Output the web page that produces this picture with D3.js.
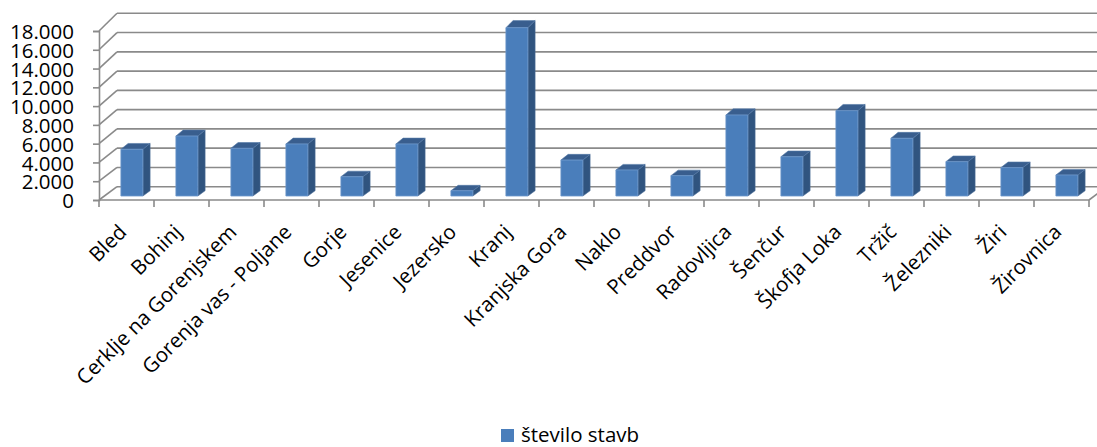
<!DOCTYPE html>
<html>
<head>
<meta charset="utf-8">
<script src="https://cdn.jsdelivr.net/npm/d3@7"></script>
<style>
  html, body { margin: 0; padding: 0; background: #fff; }
  svg { display: block; }
  text { font-family: "Open Sans", "Noto Sans", sans-serif; fill: #000; }
</style>
</head>
<body>
<svg id="chart" width="1097" height="447"></svg>
<script>
// Number of buildings per municipality (Gorenjska region)
const municipalities = [
  "Bled", "Bohinj", "Cerklje na Gorenjskem", "Gorenja vas - Poljane", "Gorje",
  "Jesenice", "Jezersko", "Kranj", "Kranjska Gora", "Naklo", "Preddvor",
  "Radovljica", "Šenčur", "Škofja Loka", "Tržič", "Železniki", "Žiri", "Žirovnica"
];
const buildingCounts = [
  4940, 6340, 5040, 5500, 2040,
  5500, 560, 17790, 3800, 2750, 2150,
  8560, 4150, 9020, 6100, 3630, 3000, 2220
];
const yTicks = [0, 2000, 4000, 6000, 8000, 10000, 12000, 14000, 16000, 18000];
const seriesName = "število stavb";

const svg = d3.select("#chart");

// Front plane (axis) and back wall vertical scales
const yFront = d3.scaleLinear().domain([0, 18000]).range([200, 31]);
const yBack = d3.scaleLinear().domain([0, 18000]).range([186.7, 13.3]);
const depthDx = 18;            // horizontal shift from front to back wall
const left = 99, right = 1089;

const x = d3.scaleBand()
  .domain(municipalities)
  .range([left, right])
  .paddingInner(0.6)
  .paddingOuter(0.3);

// point in the 3D box: front x, value, depth fraction f (0 = front, 1 = back)
function px(xf, f) { return xf + depthDx * f; }
function py(v, f) { return yFront(v) + f * (yBack(v) - yFront(v)); }

const gridColor = "#8a8a8a";

// back wall gridlines and left wall diagonals
const grid = svg.append("g");
yTicks.forEach(v => {
  grid.append("line")
    .attr("x1", left + depthDx).attr("x2", 1100)
    .attr("y1", yBack(v)).attr("y2", yBack(v))
    .attr("stroke", gridColor).attr("stroke-width", 1.6);
  grid.append("line")
    .attr("x1", left).attr("y1", yFront(v))
    .attr("x2", left + depthDx).attr("y2", yBack(v))
    .attr("stroke", gridColor).attr("stroke-width", 1.6);
});
// right floor edge
grid.append("line")
  .attr("x1", right).attr("y1", yFront(0))
  .attr("x2", right + depthDx).attr("y2", yBack(0))
  .attr("stroke", gridColor).attr("stroke-width", 1.6);

// y axis
const fmt = d3.formatLocale({ decimal: ",", thousands: ".", grouping: [3], currency: ["", "€"] }).format(",d");
const yAxis = svg.append("g")
  .attr("transform", `translate(${left},0)`)
  .call(d3.axisLeft(yFront).tickValues(yTicks).tickFormat(fmt).tickSize(6).tickPadding(19));
yAxis.select(".domain").attr("stroke", gridColor).attr("stroke-width", 1.6);
yAxis.selectAll(".tick line").attr("stroke", gridColor).attr("stroke-width", 1.6);
yAxis.selectAll(".tick text")
  .style("font-size", "20.5px")
  .attr("dy", "0.37em");

// x axis: front floor edge, boundary ticks, rotated labels
const xAxis = svg.append("g").attr("transform", "translate(0,200)");
xAxis.append("line")
  .attr("x1", left).attr("x2", right).attr("y1", 0).attr("y2", 0)
  .attr("stroke", gridColor).attr("stroke-width", 1.6);
const step = x.step();
d3.range(municipalities.length + 1).forEach(i => {
  xAxis.append("line")
    .attr("x1", left + step * i).attr("x2", left + step * i)
    .attr("y1", 0).attr("y2", 7)
    .attr("stroke", gridColor).attr("stroke-width", 1.6);
});
const xLabels = svg.append("g")
  .attr("transform", "translate(0,200)")
  .call(d3.axisBottom(x).tickSize(0).tickPadding(0));
xLabels.select(".domain").remove();
xLabels.selectAll(".tick text")
  .style("font-size", "20.5px")
  .attr("text-anchor", "end")
  .attr("x", 0).attr("y", 0)
  .attr("dy", "0.71em")
  .attr("transform", "translate(-9,23) rotate(-45)");

// 3D columns
const fFront = 0.3, fBackBar = 0.7;
const bars = svg.append("g");
municipalities.forEach((m, i) => {
  const v = buildingCounts[i];
  const x0 = x(m), x1 = x(m) + x.bandwidth();
  const g = bars.append("g");
  // right side face
  g.append("path")
    .attr("d", d3.line()([
      [px(x1, fFront), py(0, fFront)],
      [px(x1, fBackBar), py(0, fBackBar)],
      [px(x1, fBackBar), py(v, fBackBar)],
      [px(x1, fFront), py(v, fFront)]
    ]) + "Z")
    .attr("fill", "#30547f").attr("stroke", "#4d6f99").attr("stroke-width", 0.6);
  // top face
  g.append("path")
    .attr("d", d3.line()([
      [px(x0, fFront), py(v, fFront)],
      [px(x1, fFront), py(v, fFront)],
      [px(x1, fBackBar), py(v, fBackBar)],
      [px(x0, fBackBar), py(v, fBackBar)]
    ]) + "Z")
    .attr("fill", "#395e8e").attr("stroke", "#5479a6").attr("stroke-width", 0.6);
  // front face
  g.append("path")
    .attr("d", d3.line()([
      [px(x0, fFront), py(0, fFront)],
      [px(x1, fFront), py(0, fFront)],
      [px(x1, fFront), py(v, fFront)],
      [px(x0, fFront), py(v, fFront)]
    ]) + "Z")
    .attr("fill", "#4a7ebb").attr("stroke", "#6d98cc").attr("stroke-width", 0.8);
});

// legend
const legend = svg.append("g").attr("transform", "translate(501,429)");
legend.append("rect").attr("width", 13).attr("height", 13).attr("fill", "#4a7ebb");
legend.append("text").attr("x", 20).attr("y", 13).style("font-size", "20.5px").text(seriesName);
</script>
</body>
</html>
